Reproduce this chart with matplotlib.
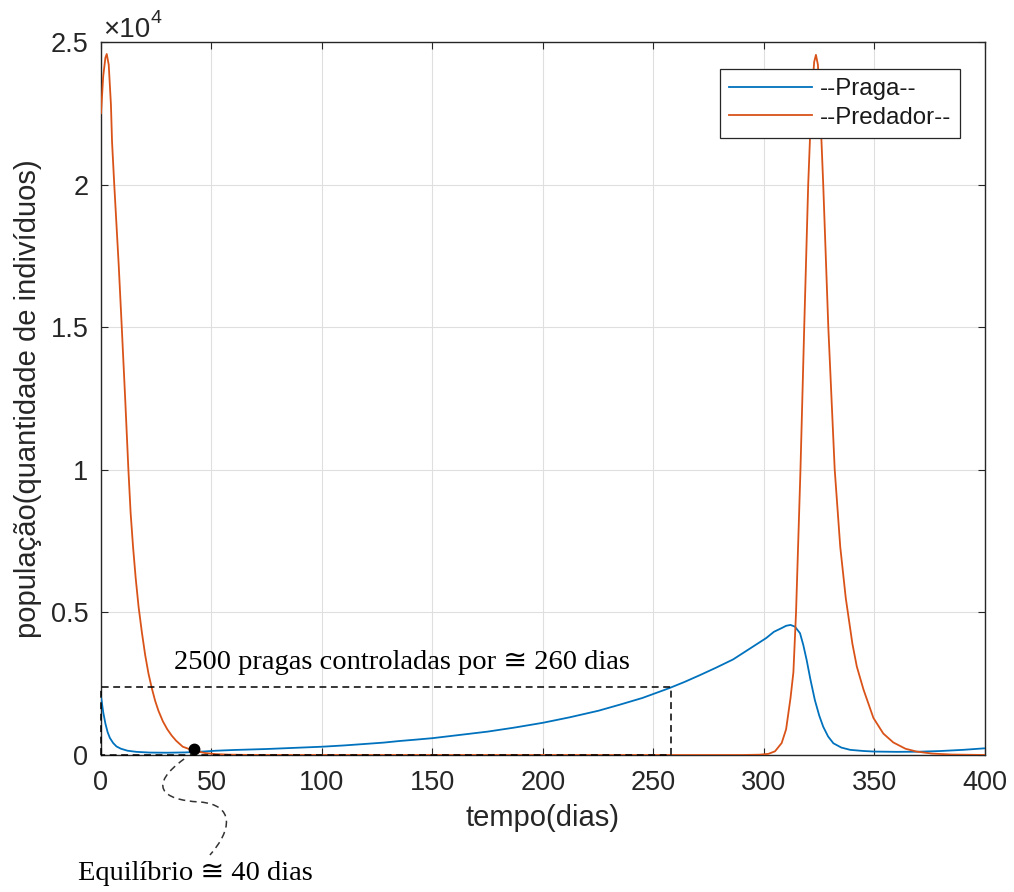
import numpy as np
import matplotlib
matplotlib.use("Agg")
import matplotlib.pyplot as plt
from matplotlib.path import Path
from matplotlib.patches import PathPatch

plt.rcParams['font.family'] = ['Liberation Sans', 'DejaVu Sans']

# valores (tempo em dias, populacao em individuos)
t_praga = [0, 1, 2, 3, 4, 5.5, 7, 9, 12, 16, 22, 30, 38, 45, 52, 60, 75, 100,
           110, 120, 128, 135, 142, 150, 162, 175, 187, 200, 212, 225, 235,
           245, 251, 257, 264, 271, 278, 286, 293, 301, 304.5, 308, 310, 312,
           314, 316.3, 317.8, 319.3, 321, 323, 325, 326.8, 329, 331.4, 335,
           339, 345, 350, 360, 370, 380, 390, 400]
praga = [2050, 1500, 1100, 800, 600, 420, 300, 220, 150, 110, 85, 80, 90, 115,
         150, 175, 210, 290, 335, 390, 435, 490, 535, 590, 700, 820, 960, 1130,
         1320, 1550, 1770, 2000, 2170, 2340, 2560, 2800, 3050, 3350, 3700,
         4100, 4320, 4450, 4530, 4560, 4500, 4270, 3850, 3330, 2650, 1930,
         1380, 990, 650, 410, 260, 180, 140, 120, 110, 115, 140, 180, 235]

t_pred = [0, 1, 2, 2.6, 3.5, 4.5, 5, 6, 7, 8, 9.4, 10.2, 11, 12.4, 13.4,
          14.5, 15.7, 17, 18.5, 20, 21.5, 23, 24.5, 26, 28, 30, 32, 34, 37,
          42, 47, 52, 58, 65, 75, 290, 298, 302, 305, 308, 310, 312, 313.3,
          314.5, 316.5, 318.2, 320, 321.5, 322.7, 323.5, 324.4, 325.5, 326.8,
          329.1, 332, 334.5, 337, 340, 342, 345, 349.5, 354, 358.5, 364, 369,
          376, 385, 400]
predador = [22500, 23800, 24450, 24580, 24200, 22800, 21500, 20000, 18600,
            17200, 15000, 13700, 12400, 10000, 8500, 7300, 6200, 5200, 4300,
            3500, 2850, 2340, 1900, 1550, 1180, 900, 680, 500, 290, 150, 70,
            30, 12, 4, 0, 0, 10, 40, 130, 420, 900, 2000, 2900, 5000, 10000,
            15000, 20000, 23000, 24300, 24550, 24200, 22500, 20000, 15000,
            10000, 7300, 5500, 3900, 3100, 2300, 1300, 750, 440, 220, 120, 50,
            15, 0]

dias_controle = 258      # fim do controle
limite_pragas = 2400     # nivel de pragas
t_equilibrio = 42
v_equilibrio = 200

xticks = [0, 50, 100, 150, 200, 250, 300, 350, 400]
yticks = [0, 5000, 10000, 15000, 20000, 25000]
ytick_labels = ['0', '0.5', '1', '1.5', '2', '2.5']

cor_praga = '#0072BD'
cor_pred = '#D95319'
cinza = '#262626'

fig = plt.figure(figsize=(10.14, 8.92), dpi=100)
ax = fig.add_axes([0.0996, 0.1536, 0.8718, 0.7993])

ax.plot(t_praga, praga, color=cor_praga, lw=1.3, label='--Praga--', zorder=3)
ax.plot(t_pred, predador, color=cor_pred, lw=1.3, label='--Predador--', zorder=3)

# retangulo tracejado
ax.plot([0, 0, dias_controle, dias_controle, 0],
        [0, limite_pragas, limite_pragas, 0, 0],
        color='k', lw=1.1, dashes=(4.5, 3), zorder=4, clip_on=False)
ax.plot([t_equilibrio], [v_equilibrio], 'o', color='k', ms=7.5, zorder=5)

ax.set_xlim(0, 400)
ax.set_ylim(0, 25000)
ax.set_xticks(xticks)
ax.set_yticks(yticks)
ax.set_yticklabels(ytick_labels)
ax.grid(True, color='#DFDFDF', lw=0.8)
ax.set_axisbelow(True)

ax.tick_params(direction='in', length=5, width=0.8, color=cinza,
               labelcolor=cinza, labelsize=19.5, top=True, right=True)
ax.tick_params(axis='x', pad=11)
ax.tick_params(axis='y', pad=9)
for s in ax.spines.values():
    s.set_color(cinza)
    s.set_linewidth(1.0)

ax.set_xlabel('tempo(dias)', fontsize=21, color=cinza)
ax.set_ylabel('população(quantidade de indivíduos)', fontsize=21, color=cinza)
ax.xaxis.set_label_coords(0.5, -0.069)
ax.yaxis.set_label_coords(-0.067, 0.5)

# fator x10^4
ax.text(0.002, 1.007, '×10', transform=ax.transAxes, fontsize=20,
        color=cinza, ha='left', va='baseline')
ax.text(0.056, 1.027, '4', transform=ax.transAxes, fontsize=14,
        color=cinza, ha='left', va='baseline')

leg = ax.legend(loc='upper right', bbox_to_anchor=(0.9717, 0.9621),
                borderaxespad=0, fontsize=17.3, handlelength=3.45,
                handletextpad=0.3, borderpad=0.38, labelspacing=0.28,
                fancybox=False, framealpha=1)
leg.get_frame().set_edgecolor(cinza)
leg.get_frame().set_linewidth(0.9)
for txt in leg.get_texts():
    txt.set_color('#1a1a1a')

serif = ['Liberation Serif', 'DejaVu Serif', 'DejaVu Sans']
ax.text(136, 3230, '2500 pragas controladas por ≅ 260 dias', family=serif,
        fontsize=20.5, ha='center', va='center', color='k')

# seta ondulada ate o texto do equilibrio
verts = [(37.6, -140), (21.5, -1052), (26.7, -1578), (44.8, -1648),
         (60.6, -1753), (59.3, -2630), (49.3, -3506)]
codes = [Path.MOVETO, Path.CURVE4, Path.CURVE4, Path.CURVE4,
         Path.CURVE4, Path.CURVE4, Path.CURVE4]
seta = PathPatch(Path(verts, codes), fill=False, edgecolor='#333333',
                 lw=1.1, linestyle=(0, (4.5, 3)), clip_on=False,
                 transform=ax.transData)
ax.add_patch(seta)
ax.text(42.5, -4150, 'Equilíbrio ≅ 40 dias', family=serif, fontsize=20.5,
        ha='center', va='center', color='k', clip_on=False)

plt.savefig('out.png', dpi=100)
